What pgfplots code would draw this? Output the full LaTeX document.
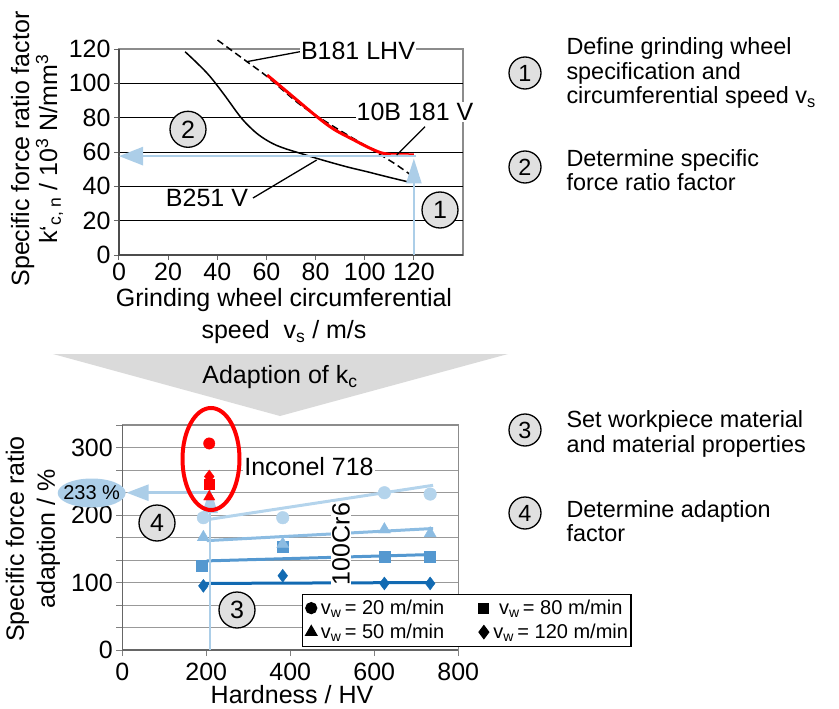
\documentclass[border=0pt]{standalone}
\usepackage{fontspec}
\setmainfont{Liberation Sans}
\usepackage{pgfplots}
\pgfplotsset{compat=1.18}
\usetikzlibrary{arrows.meta}
\definecolor{lb}{RGB}{172,206,232}
\definecolor{cA}{RGB}{180,212,236}
\definecolor{cB}{RGB}{140,188,226}
\definecolor{cC}{RGB}{84,152,208}
\definecolor{cD}{RGB}{18,106,178}
\definecolor{cg}{RGB}{218,218,218}
\definecolor{cc}{RGB}{224,224,224}
\newcommand{\F}{\fontsize{25}{28}\selectfont}
\newcommand{\R}{\fontsize{23.4}{24.5}\selectfont}
\tikzset{num/.style={circle, draw=black, line width=1.3pt, fill=cc, minimum size=36pt, inner sep=0pt, font=\F},
         rnum/.style={circle, draw=black, line width=1.3pt, fill=cc, minimum size=32pt, inner sep=0pt, font=\R}}
\begin{document}
\begin{tikzpicture}
\path[use as bounding box] (0pt,0pt) rectangle (839pt,-709pt);
\begin{scope}[x=1pt,y=-1pt]
\fill[cg] (53,354) -- (508,354) -- (280,416) -- cycle;
\node[font=\F] at (280,377) {Adaption of k\textsubscript{c}};
\end{scope}

% ---------------- top chart ----------------
\begin{axis}[
 at={(119pt,-255pt)}, anchor=south west, scale only axis, width=344pt, height=206pt,
 xmin=0,xmax=140,ymin=0,ymax=120, clip=false,
 xtick={0,20,...,120}, ytick={0,20,...,120}, tick pos=left, tick align=outside,
 major tick length=5pt, tick style={black!60, line width=1pt},
 axis line style={black!45, line width=1.3pt},
 ticklabel style={font=\F}, /pgf/number format/assume math mode=true,
]
\pgfplotsinvokeforeach{20,40,60,80,100}{\draw[black, line width=0.9pt] (axis cs:0,#1) -- (axis cs:140,#1);}
\draw[black!70, line width=1.5pt] (rel axis cs:0,1) -- (rel axis cs:0,0) -- (rel axis cs:1,0);
% B251 V
\addplot[black, line width=1.5pt, smooth, tension=0.6] coordinates {(26.9,118.4)(32,111.5)(37.1,103.9)(43,93)(49.4,80.5)(54,73.5)(58,68.8)(63,64.6)(68,61.8)(73.9,59.2)(80,56.5)(87.5,53.4)(94,50.9)(101,48.5)(109,45.6)(117.4,42.7)};
% B181 LHV
\addplot[black, line width=1.5pt, smooth, dash pattern=on 7pt off 4pt] coordinates {(40.1,125.2)(52.1,112.6)(60.3,103.9)(73.9,87.4)(87.5,74.7)(101,63.1)(112,53.4)(118.8,46.6)};
% 10B 181 V
\addplot[red, line width=3pt, smooth] coordinates {(60.3,104.8)(68.4,95.1)(80.6,80.5)(87.5,73.2)(95.6,67)(101,63)(106.5,59.6)(110.6,58.6)};
\addplot[red, line width=1.5pt] coordinates {(108,59)(120,58.8)};
% arrows
\draw[lb, line width=2.7pt, -{Triangle[length=25pt,width=15pt]}] (axis cs:120,0) -- (axis cs:120,56.3);
\draw[lb, line width=2.7pt, -{Triangle[length=24pt,width=18pt]}] (axis cs:121,57.6) -- (axis cs:0,57.6);
\end{axis}

% ---------------- bottom chart ----------------
\begin{axis}[
 at={(122.3pt,-650pt)}, anchor=south west, scale only axis, width=336pt, height=225pt,
 xmin=0,xmax=800,ymin=0,ymax=333.333, clip=false,
 xtick={0,200,...,800}, ytick={0,100,200,300},
 minor ytick={33.333,66.667,133.333,166.667,233.333,266.667,333.333},
 tick pos=left, tick align=outside, major tick length=6pt, minor tick length=6pt,
 tick style={black!50, line width=1pt},
 ymajorgrids, yminorgrids, grid style={black!40, line width=1pt},
 minor grid style={black!40, line width=1pt},
 axis line style={black!45, line width=1.2pt},
 ticklabel style={font=\F}, /pgf/number format/assume math mode=true,
 xticklabel style={yshift=-4pt},
 legend columns=2,
 legend style={at={(0.535,0.251)}, anchor=north west, draw=black, line width=1.2pt, fill=white,
   font=\fontsize{20}{22}\selectfont, inner xsep=1pt, inner ysep=2pt,
   /tikz/every odd column/.append style={column sep=0pt},
   /tikz/every even column/.append style={column sep=30pt},
   nodes={inner xsep=2pt, inner ysep=1pt, text depth=5pt, text height=17pt}},
 legend image code/.code={\path (-7pt,0pt) (7pt,0pt); \draw[#1] plot coordinates {(0pt,0pt)};},
]
\draw[black!60, line width=1.3pt] (rel axis cs:0,1) -- (rel axis cs:0,0) -- (rel axis cs:1,0);
\addlegendimage{only marks, mark=*, black, mark size=5.5pt}
\addlegendentry{v\textsubscript{w}\,= 20 m/min}
\addlegendimage{only marks, mark=square*, black, mark size=5pt}
\addlegendentry{v\textsubscript{w}\,= 80 m/min}
\addlegendimage{only marks, mark=triangle*, black, mark size=6.5pt}
\addlegendentry{v\textsubscript{w}\,= 50 m/min}
\addlegendimage{only marks, mark=diamond*, black, mark size=6.5pt}
\addlegendentry{v\textsubscript{w}\,= 120 m/min}
% trend lines
\addplot[forget plot, cA, line width=3pt] coordinates {(201,193)(740,244)};
\addplot[forget plot, cB, line width=3pt] coordinates {(201,162)(740,180)};
\addplot[forget plot, cC, line width=3pt] coordinates {(201,132)(740,141.5)};
\addplot[forget plot, cD, line width=3pt] coordinates {(193,98.6)(740,100)};
% markers 100Cr6
\addplot[forget plot, only marks, mark=*, mark size=6.3pt, cA] coordinates {(193,196)(382,196)(624,233)(733,231)};
\addplot[forget plot, only marks, mark=square*, mark size=5.5pt, cC] coordinates {(189,124.7)(382,153)(624,138)(733,138)};
\addplot[forget plot, only marks, mark=triangle*, mark size=7pt, cB] coordinates {(193,167)(382,157)(624,178.5)(733,172.6)};
\addplot[forget plot, only marks, mark=diamond*, mark size=6.5pt, cD] coordinates {(193,95)(382,110)(624,98.6)(733,98.6)};
% Inconel 718
\addplot[forget plot, only marks, mark=*, mark size=5.7pt, red] coordinates {(207,306)};
\addplot[forget plot, only marks, mark=triangle*, mark size=6.5pt, red] coordinates {(207,227)};
\addplot[forget plot, only marks, mark=square*, mark size=5pt, red] coordinates {(207,246)};
\addplot[forget plot, only marks, mark=diamond*, mark size=6.5pt, red] coordinates {(207,257)};
% arrows
\draw[lb, line width=2.5pt, -{Triangle[length=25pt,width=15pt]}] (axis cs:209,0) -- (axis cs:209,240);
\draw[lb, line width=2.5pt, -{Triangle[length=22pt,width=16pt]}] (axis cs:209,233) -- (axis cs:10,233);
\end{axis}

% ---------------- overlays ----------------
\begin{scope}[x=1pt,y=-1pt]
\draw[line width=1.3pt] (246.7,61.7) -- (300,51.7);
\node[fill=white, inner sep=1pt, font=\F] at (358,51) {B181 LHV};
\draw[line width=1.3pt] (425,126.7) -- (396.7,155);
\node[fill=white, inner sep=1pt, font=\F] at (415,112) {10B 181 V};
\draw[line width=1.3pt] (253,198) -- (316.7,160);
\node[fill=white, inner sep=1pt, font=\F] at (207,198) {B251 V};
\node[num] at (188,129.3) {2};
\node[num] at (440,210) {1};

\draw[red, line width=4pt] (211,459) ellipse [x radius=28.5pt, y radius=51pt];
\fill[lb] (91.7,493) ellipse [x radius=34pt, y radius=14.5pt];
\node[font=\fontsize{20}{22}\selectfont] at (91.7,493) {233 \%};
\node[num] at (237,610) {3};
\node[num] at (157,523) {4};
\node[fill=white, inner sep=1pt, font=\F] at (309,467) {Inconel 718};
\node[fill=white, inner sep=1pt, font=\F, rotate=90] at (341,544) {100Cr6};

\node[rotate=90, align=center, font=\fontsize{25}{28}\selectfont] at (37,149) {Specific force ratio factor\\k‘\textsubscript{c, n} / 10\textsuperscript{3} N/mm\textsuperscript{3}};
\node[align=center, font=\fontsize{25}{32}\selectfont] at (284,316) {Grinding wheel circumferential\\speed~ v\textsubscript{s} / m/s};
\node[rotate=90, align=center, font=\fontsize{25}{31}\selectfont] at (33,539) {Specific force ratio\\adaption / \%};
\node[font=\F] at (292,695) {Hardness / HV};

\node[rnum] at (525,73) {1};
\node[anchor=west, align=left, font=\R] at (563,73) {Define grinding wheel\\specification and\\circumferential speed v\textsubscript{s}};
\node[rnum] at (525,167) {2};
\node[anchor=west, align=left, font=\R] at (563,170) {Determine specific\\force ratio factor};
\node[rnum] at (525,430) {3};
\node[anchor=west, align=left, font=\R] at (563,434) {Set workpiece material\\and material properties};
\node[rnum] at (525,513) {4};
\node[anchor=west, align=left, font=\R] at (563,521) {Determine adaption\\factor};
\end{scope}
\end{tikzpicture}
\end{document}
